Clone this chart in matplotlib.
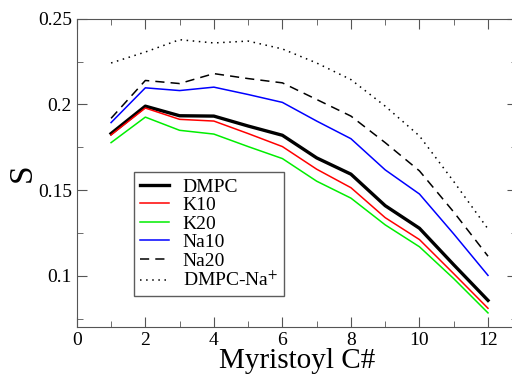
import numpy as np
import matplotlib.pyplot as plt
from matplotlib.ticker import MultipleLocator, FuncFormatter

plt.rcParams['font.family'] = ['Liberation Serif', 'DejaVu Serif']
plt.rcParams['mathtext.fontset'] = 'stix'

carbon = [1, 2, 3, 4, 5, 6, 7, 8, 9, 10, 11, 12]

dmpc = [0.183, 0.199, 0.1934, 0.1932, 0.1874, 0.182, 0.1688, 0.1593, 0.1409, 0.1277, 0.1064, 0.0856]
k10 = [0.1822, 0.1979, 0.1913, 0.1903, 0.183, 0.1754, 0.1622, 0.1514, 0.1339, 0.1211, 0.1012, 0.081]
k20 = [0.1777, 0.1926, 0.1849, 0.1827, 0.1754, 0.1684, 0.1552, 0.1453, 0.1297, 0.1169, 0.0983, 0.0783]
na10 = [0.1894, 0.2097, 0.2081, 0.2101, 0.2058, 0.2012, 0.1903, 0.18, 0.1618, 0.1477, 0.1244, 0.1002]
na20 = [0.1919, 0.214, 0.2122, 0.218, 0.2151, 0.2126, 0.2029, 0.1932, 0.1777, 0.1612, 0.1372, 0.1114]
dmpc_na = [0.2242, 0.2306, 0.2378, 0.2359, 0.237, 0.2324, 0.2242, 0.2145, 0.199, 0.1816, 0.155, 0.1273]

fig = plt.figure(figsize=(5.12, 3.76), dpi=100)
ax = fig.add_axes([0.150, 0.130, 0.860, 0.820])

ax.plot(carbon, dmpc, color='black', lw=2.4, label='DMPC')
ax.plot(carbon, k10, color='red', lw=1.1, label='K10')
ax.plot(carbon, k20, color='#00ee00', lw=1.1, label='K20')
ax.plot(carbon, na10, color='blue', lw=1.1, label='Na10')
ax.plot(carbon, na20, color='black', lw=1.1, ls=(0, (6, 4)), label='Na20')
ax.plot(carbon, dmpc_na, color='black', lw=1.1, ls=(0, (1, 3)), label='DMPC-Na$^{+}$')

ax.set_xlim(0, 12.85)
ax.set_ylim(0.07, 0.25)
ax.xaxis.set_major_locator(MultipleLocator(2))
ax.xaxis.set_minor_locator(MultipleLocator(1))
ax.yaxis.set_major_locator(MultipleLocator(0.05))
ax.yaxis.set_minor_locator(MultipleLocator(0.025))
ax.yaxis.set_major_formatter(FuncFormatter(lambda v, p: f"{v:.2f}".rstrip('0').rstrip('.')))
ax.tick_params(which='both', direction='in', top=True, right=True, labelsize=14,
               color='#555555')
ax.tick_params(which='major', length=7)
ax.tick_params(which='minor', length=4)
for s in ax.spines.values():
    s.set_color('#555555')

ax.set_xlabel('Myristoyl C#', fontsize=21, labelpad=-1)
ax.set_ylabel('S', fontsize=24, labelpad=0)

leg = ax.legend(loc='lower left', bbox_to_anchor=(0.13, 0.1), fontsize=14,
                frameon=True, fancybox=False, edgecolor='#333333',
                labelspacing=0.05, handlelength=1.5, handletextpad=0.7,
                borderpad=0.3, borderaxespad=0)
leg.get_frame().set_linewidth(1.0)

fig.savefig('out.png', dpi=100)
